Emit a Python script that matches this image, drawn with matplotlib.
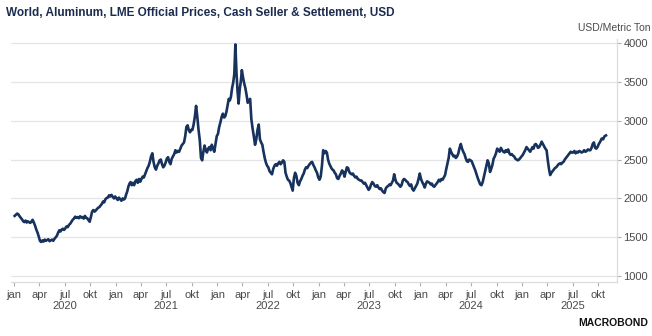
import calendar

import matplotlib
matplotlib.use("Agg")
import matplotlib.pyplot as plt
import matplotlib.dates as mdates
import pandas as pd

# LME aluminium cash seller & settlement, USD/t, several readings per month
p2020 = [
    [1775, 1790, 1805, 1795, 1770, 1750, 1730],
    [1705, 1695, 1715, 1690, 1705, 1695, 1685],
    [1700, 1725, 1690, 1650, 1600, 1560, 1510],
    [1455, 1440, 1460, 1445, 1470, 1455, 1465],
    [1475, 1450, 1460, 1470, 1455, 1480, 1500],
    [1520, 1560, 1590, 1575, 1600, 1610, 1595],
    [1615, 1640, 1630, 1660, 1675, 1700, 1725],
    [1740, 1765, 1750, 1760, 1745, 1770, 1755],
    [1760, 1740, 1775, 1750, 1745, 1720, 1700],
    [1760, 1830, 1850, 1830, 1845, 1865, 1880],
    [1890, 1910, 1930, 1960, 1950, 1990, 2005],
    [2010, 2040, 2025, 2045, 2020, 2000, 2025],
]
p2021 = [
    [2000, 1980, 2010, 1990, 1970, 2000, 1985],
    [2000, 2050, 2090, 2150, 2190, 2210, 2170],
    [2200, 2170, 2220, 2240, 2200, 2250, 2215],
    [2250, 2280, 2270, 2310, 2350, 2390, 2420],
    [2470, 2540, 2580, 2470, 2400, 2370, 2420],
    [2450, 2490, 2500, 2440, 2400, 2420, 2460],
    [2510, 2530, 2470, 2440, 2510, 2540, 2570],
    [2620, 2590, 2610, 2600, 2640, 2680, 2700],
    [2720, 2800, 2920, 2940, 2880, 2850, 2880],
    [2880, 2950, 3050, 3190, 3050, 2880, 2750],
    [2520, 2490, 2600, 2680, 2620, 2590, 2640],
    [2660, 2620, 2690, 2640, 2600, 2700, 2800],
]
p2022 = [
    [2830, 2920, 2980, 3050, 3090, 3040, 3060],
    [3120, 3200, 3280, 3260, 3310, 3420, 3490],
    [3600, 3980, 3620, 3380, 3220, 3400, 3500, 3650],
    [3560, 3480, 3420, 3330, 3230, 3260, 3280],
    [3020, 2900, 2800, 2690, 2760, 2880, 2950],
    [2760, 2720, 2690, 2600, 2520, 2460, 2420],
    [2400, 2350, 2330, 2310, 2380, 2420, 2440],
    [2420, 2450, 2470, 2440, 2460, 2490, 2470],
    [2330, 2280, 2240, 2230, 2200, 2150, 2100],
    [2260, 2330, 2290, 2200, 2170, 2220, 2250],
    [2290, 2320, 2370, 2400, 2390, 2420, 2440],
    [2460, 2470, 2430, 2400, 2360, 2330, 2270],
]
p2023 = [
    [2240, 2280, 2420, 2620, 2580, 2610, 2590],
    [2500, 2450, 2420, 2390, 2370, 2360, 2330],
    [2310, 2260, 2250, 2290, 2320, 2360, 2340],
    [2280, 2340, 2400, 2390, 2340, 2320, 2310],
    [2320, 2290, 2270, 2280, 2250, 2240, 2230],
    [2230, 2210, 2190, 2200, 2170, 2140, 2110],
    [2130, 2180, 2210, 2190, 2160, 2150, 2170],
    [2140, 2120, 2130, 2100, 2080, 2070, 2130],
    [2150, 2160, 2180, 2170, 2200, 2230, 2310],
    [2240, 2200, 2190, 2170, 2150, 2170, 2230],
    [2250, 2240, 2220, 2210, 2180, 2160, 2180],
    [2120, 2100, 2130, 2160, 2190, 2250, 2320],
]
p2024 = [
    [2250, 2210, 2180, 2140, 2190, 2220, 2210],
    [2200, 2180, 2190, 2160, 2150, 2170, 2190],
    [2210, 2240, 2220, 2250, 2240, 2270, 2300],
    [2380, 2450, 2520, 2640, 2600, 2570, 2540],
    [2550, 2520, 2540, 2580, 2650, 2700, 2640],
    [2600, 2570, 2520, 2480, 2470, 2500, 2490],
    [2480, 2440, 2400, 2360, 2310, 2260, 2220],
    [2180, 2170, 2210, 2280, 2350, 2420, 2490],
    [2450, 2340, 2380, 2430, 2510, 2540, 2580],
    [2640, 2620, 2600, 2650, 2620, 2600, 2590],
    [2620, 2600, 2630, 2580, 2560, 2570, 2550],
    [2540, 2510, 2500, 2490, 2500, 2520, 2540],
]
p2025 = [
    [2560, 2590, 2620, 2660, 2640, 2620, 2600],
    [2630, 2660, 2640, 2690, 2700, 2680, 2650],
    [2660, 2690, 2730, 2700, 2670, 2640, 2620],
    [2490, 2380, 2300, 2330, 2350, 2370, 2390],
    [2400, 2420, 2440, 2450, 2440, 2460, 2470],
    [2500, 2520, 2540, 2560, 2580, 2600, 2590],
    [2590, 2610, 2580, 2600, 2590, 2610, 2600],
    [2590, 2600, 2620, 2600, 2610, 2630, 2620],
    [2620, 2650, 2700, 2720, 2650, 2640, 2660],
    [2700, 2730, 2770, 2760, 2800, 2810],
]
years = [2020, 2021, 2022, 2023, 2024, 2025]
month_labels = {1: "jan", 4: "apr", 7: "jul", 10: "okt"}
y_ticks = [1000, 1500, 2000, 2500, 3000, 3500, 4000]

navy = "#17325c"
grey_text = "#4a4a4a"
light = "#dcdcdc"

plt.rcParams["font.family"] = ["Liberation Sans", "DejaVu Sans"]


def spread_month(year, month, values):
    # place the readings of one month evenly inside it
    days = calendar.monthrange(year, month)[1]
    start = pd.Timestamp(year, month, 1)
    n = len(values)
    return [start + pd.Timedelta(days=days * (i + 0.5) / n) for i in range(n)]


dates, prices = [], []
for year, months in zip(years, [p2020, p2021, p2022, p2023, p2024, p2025]):
    for m, vals in enumerate(months, start=1):
        dates += spread_month(year, m, vals)
        prices += vals

fig = plt.figure(figsize=(6.52, 3.36), dpi=100)
ax = fig.add_axes([11 / 652, 1 - 282 / 336, 606 / 652, 243 / 336])

ax.plot(dates, prices, color=navy, lw=1.9, solid_joinstyle="round")

ax.set_xlim(pd.Timestamp(2019, 12, 21), pd.Timestamp(2025, 12, 8))
ax.set_ylim(925, 4050)

ax.yaxis.tick_right()
ax.set_yticks(y_ticks)
ax.grid(axis="y", color="#e4e4e4", lw=0.9)
ax.set_axisbelow(True)

for side in ["top", "left"]:
    ax.spines[side].set_visible(False)
for side in ["right", "bottom"]:
    ax.spines[side].set_color(light)
    ax.spines[side].set_linewidth(0.9)

ax.xaxis.set_major_locator(mdates.MonthLocator(bymonth=[1, 4, 7, 10]))
ax.xaxis.set_major_formatter(
    plt.FuncFormatter(lambda v, pos: month_labels[mdates.num2date(v).month])
)
ax.tick_params(axis="x", length=3, width=0.8, color="#b0b0b0", pad=2.5,
               labelsize=8, labelcolor=grey_text)
ax.tick_params(axis="y", length=3, width=0.8, color="#b0b0b0", pad=1.5,
               labelsize=8, labelcolor=grey_text)

# year labels centred under each July
for year in years:
    ax.annotate(str(year), xy=(pd.Timestamp(year, 7, 1), 0),
                xycoords=("data", "axes fraction"), xytext=(0, -24),
                textcoords="offset pixels", ha="center", va="center",
                fontsize=8, color=grey_text)

fig.text(6 / 652, 1 - 13 / 336,
         "World, Aluminum, LME Official Prices, Cash Seller & Settlement, USD",
         ha="left", va="center", fontsize=8.5, fontweight="bold", color="#1b2c4e")
fig.text(650 / 652, 1 - 28 / 336, "USD/Metric Ton", ha="right", va="center",
         fontsize=7.5, color=grey_text)
fig.text(648 / 652, 1 - 323 / 336, "MACROBOND", ha="right", va="center",
         fontsize=7.5, fontweight="bold", color="#111111")

fig.savefig("out.png", dpi=100, facecolor="white")
